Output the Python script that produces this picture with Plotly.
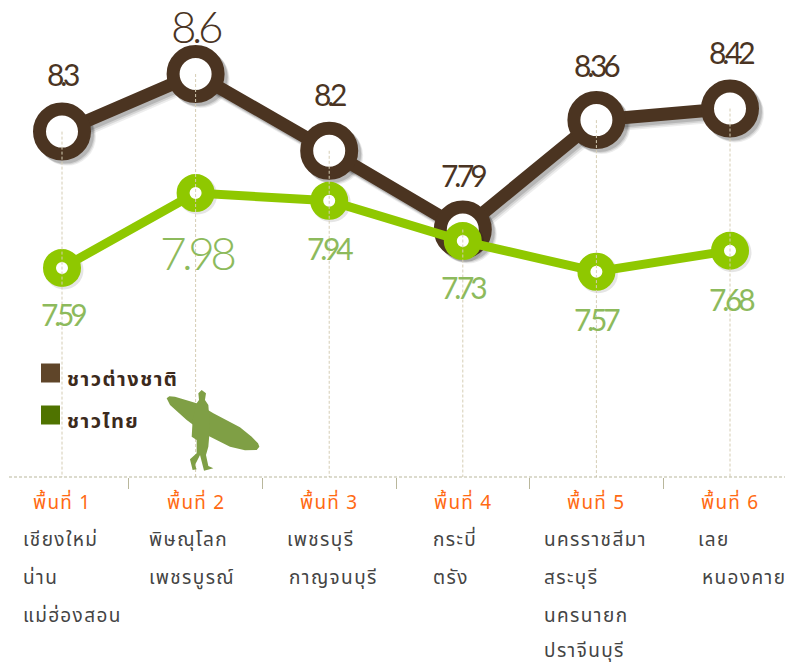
import plotly.graph_objects as go

# --- data ---
zones = ["พื้นที่ 1", "พื้นที่ 2", "พื้นที่ 3", "พื้นที่ 4", "พื้นที่ 5", "พื้นที่ 6"]
foreign_name = "ชาวต่างชาติ"
thai_name = "ชาวไทย"
foreign = [8.3, 8.6, 8.2, 7.79, 8.36, 8.42]
thai = [7.59, 7.98, 7.94, 7.73, 7.57, 7.68]
foreign_text = ["8.3", "8.6", "8.2", "7.79", "8.36", "8.42"]
thai_text = ["7.59", "7.98", "7.94", "7.73", "7.57", "7.68"]
provinces = [
    ["เชียงใหม่", "น่าน", "แม่ฮ่องสอน"],
    ["พิษณุโลก", "เพชรบูรณ์"],
    ["เพชรบุรี", "กาญจนบุรี"],
    ["กระบี่", "ตรัง"],
    ["นครราชสีมา", "สระบุรี", "นครนายก", "ปราจีนบุรี"],
    ["เลย", "หนองคาย"],
]

# --- style / layout ---
W, H = 785, 666
X0, STEP = 62.0, 133.6          # px of first category, px per category
BASE_PX = 477.0
PX_PER_UNIT = 192.0
TOP_VAL = 8.6 + 74 / PX_PER_UNIT
BASE_VAL = 8.6 - (BASE_PX - 74) / PX_PER_UNIT
BROWN, GREEN = "#4b3421", "#8fc800"
BROWN_TXT, GREEN_TXT = "#4a3423", "#8dba5c"
THAI_FONT = "Noto Sans Thai, Tahoma, Noto Sans, sans-serif"
NUM_FONT = "Lato"

idx = list(range(len(zones)))
fx = lambda px: px / W
fy = lambda py: 1 - py / H
spaced = lambda t, s: f'<span style="letter-spacing:{s:.1f}px">{t}</span>'

fig = go.Figure()

# soft shadow of the brown series, offset a few px
for off, width, alpha in [(5, 15, 0.07), (4, 14, 0.10), (3, 13, 0.14)]:
    dx, dy = off / STEP, off / PX_PER_UNIT
    fig.add_trace(go.Scatter(
        x=[i + dx for i in idx], y=[v - dy for v in foreign], mode="lines+markers",
        line=dict(color=f"rgba(0,0,0,{alpha})", width=width),
        marker=dict(size=58, color=f"rgba(0,0,0,{alpha})"),
        hoverinfo="skip", showlegend=False))

# brown series
fig.add_trace(go.Scatter(
    x=idx, y=foreign, mode="lines", line=dict(color=BROWN, width=13),
    hoverinfo="skip", showlegend=False))
fig.add_trace(go.Scatter(
    x=idx, y=foreign, mode="markers", name=foreign_name,
    marker=dict(size=45, color="white", line=dict(color=BROWN, width=13)),
    showlegend=False))

# green series
fig.add_trace(go.Scatter(
    x=[i + 2 / STEP for i in idx], y=[v - 2 / PX_PER_UNIT for v in thai], mode="markers",
    marker=dict(size=39, color="rgba(0,0,0,0.10)"), hoverinfo="skip", showlegend=False))
fig.add_trace(go.Scatter(
    x=idx, y=thai, mode="lines", line=dict(color=GREEN, width=9),
    hoverinfo="skip", showlegend=False))
fig.add_trace(go.Scatter(
    x=idx, y=thai, mode="markers", name=thai_name,
    marker=dict(size=25, color="white", line=dict(color=GREEN, width=13)),
    showlegend=False))

# drop lines from each brown point to the axis
for i in idx:
    fig.add_trace(go.Scatter(
        x=[i, i], y=[foreign[i], BASE_VAL], mode="lines",
        line=dict(color="#d5cdb4", width=1, dash="3px,2px"),
        hoverinfo="skip", showlegend=False))

annotations = []
F_SHIFT = [58, 48, 57, 55, 55, 57]
F_SIZE = [30, 44, 30, 30, 30, 30]
T_SHIFT = [-46, -59, -47, -46, -47, -48]
T_SIZE = [30, 46, 30, 30, 30, 30]
for vals, txts, shifts, sizes, col in [
    (foreign, foreign_text, F_SHIFT, F_SIZE, BROWN_TXT),
    (thai, thai_text, T_SHIFT, T_SIZE, GREEN_TXT),
]:
    for i in idx:
        big = sizes[i] > 40
        annotations.append(dict(
            x=i, y=vals[i], xref="x", yref="y", xshift=1, yshift=shifts[i],
            text=spaced(txts[i], (-0.1 if big else -0.14) * sizes[i]),
            showarrow=False, xanchor="center", yanchor="middle",
            font=dict(family=NUM_FONT, size=sizes[i], color=col, weight=300 if big else 400)))

# legend: text and swatches
SHAPES_LEGEND = [(foreign_name, "#5f4529", 373), (thai_name, "#4f7300", 415)]
for name, col, cy in SHAPES_LEGEND:
    annotations.append(dict(
        x=fx(65), y=fy(cy + 7), xref="paper", yref="paper", text=spaced(name, 1.5),
        showarrow=False, xanchor="left", yanchor="middle",
        font=dict(family=THAI_FONT, size=20, color="#3c2a1c", weight="bold")))

# zone headers and province lists
LEFT = [21, 147, 285, 431, 542, 696]
ROW_Y = [540, 578, 616, 651]
INDENT = {(2, 1): 2, (5, 1): 4}
for i, z in enumerate(zones):
    annotations.append(dict(
        x=i, y=fy(503), xref="x", yref="paper", text=spaced(z, 1.2), showarrow=False,
        xanchor="center", yanchor="middle",
        font=dict(family=THAI_FONT, size=19, color="#ff6a13")))
    for r, p in enumerate(provinces[i]):
        annotations.append(dict(
            x=fx(LEFT[i] + INDENT.get((i, r), 0)), y=fy(ROW_Y[r]), xref="paper", yref="paper",
            text=spaced(p, 1.4), showarrow=False, xanchor="left", yanchor="middle",
            font=dict(family=THAI_FONT, size=19, color="#444444")))

def path(points, scale=3.0, oy=340):
    pts = [(fx(x / scale), fy(oy + y / scale)) for x, y in points]
    return "M" + " L".join(f"{a:.4f},{b:.4f}" for a, b in pts) + " Z"

board = [(500, 175), (508, 169), (525, 170), (590, 190), (640, 220), (720, 262), (755, 290), (774, 310), (778, 320),
         (770, 330), (735, 331), (690, 320), (620, 285), (560, 240), (510, 195)]
body = [(605, 150), (618, 160), (615, 180), (625, 195), (630, 260), (625, 320), (618, 345),
        (625, 378), (640, 385), (612, 392), (600, 345), (585, 375), (590, 388), (578, 390),
        (570, 358), (590, 340), (590, 300), (575, 290), (578, 240), (590, 190), (597, 180), (595, 160)]
shapes = [dict(type="path", xref="paper", yref="paper", path=path(p), fillcolor="#7f9f45",
               line=dict(width=0), layer="above") for p in (board, body)]
shapes.append(dict(type="line", xref="paper", yref="paper", x0=fx(9), x1=1,
                   y0=fy(BASE_PX), y1=fy(BASE_PX),
                   line=dict(color="#b9b79c", width=1, dash="3px,2px")))
for name, col, cy in SHAPES_LEGEND:
    shapes.append(dict(type="rect", xref="paper", yref="paper", x0=fx(41), x1=fx(60),
                       y0=fy(cy - 9.5), y1=fy(cy + 9.5), fillcolor=col, line=dict(width=0)))

fig.update_layout(
    width=W, height=H, autosize=False,
    margin=dict(l=0, r=0, t=0, b=0),
    paper_bgcolor="white", plot_bgcolor="white",
    annotations=annotations, shapes=shapes,
    showlegend=False,
    xaxis=dict(range=[-X0 / STEP, (W - X0) / STEP], tickvals=[i + 0.5 for i in idx[:-1]],
               ticktext=[""] * 5, ticks="outside", ticklen=11, tickwidth=1, tickcolor="#b9b79c",
               showgrid=False, zeroline=False, showline=False, fixedrange=True),
    yaxis=dict(range=[BASE_VAL, TOP_VAL], domain=[1 - BASE_PX / H, 1], visible=False,
               fixedrange=True),
)
fig.write_html("out.html", config=dict(displayModeBar=False),
               post_script="document.body.style.margin='0';document.body.style.overflow='hidden';")
